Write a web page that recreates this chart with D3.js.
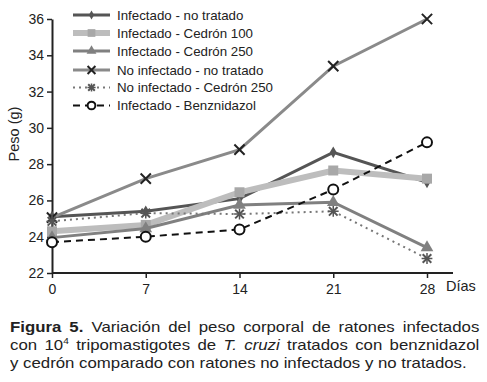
<!DOCTYPE html>
<html lang="es">
<head>
<meta charset="UTF-8">
<title>Peso corporal</title>
<script src="https://d3js.org/d3.v7.min.js"></script>
<style>
  body { margin: 0; background: #fff; font-family: "Liberation Sans", Arial, sans-serif; }
  #chart { position: absolute; left: 0; top: 0; }
  .caption {
    position: absolute; left: 10px; top: 318px; width: 419px;
    font-size: 15px; line-height: 18px; color: #222;
    transform: scaleX(1.12); transform-origin: 0 0;
  }
  .caption div { text-align: justify; text-align-last: justify; white-space: nowrap; }
  .caption div.last { text-align-last: left; }
  .caption sup { font-size: 9px; line-height: 0; vertical-align: 6px; }
</style>
</head>
<body>
<div id="chart"></div>
<div class="caption">
  <div><b>Figura 5.</b> Variación del peso corporal de ratones infectados</div>
  <div>con 10<sup>4</sup> tripomastigotes de <i>T. cruzi</i> tratados con benznidazol</div>
  <div class="last">y cedrón comparado con ratones no infectados y no tratados.</div>
</div>
<script>
const days = [0, 7, 14, 21, 28];
const yTicks = [22, 24, 26, 28, 30, 32, 34, 36];
const seriesNames = [
  "Infectado - no tratado",
  "Infectado - Cedrón 100",
  "Infectado - Cedrón 250",
  "No infectado - no tratado",
  "No infectado - Cedrón 250",
  "Infectado - Benznidazol"
];
const infNoTratado = [25.1, 25.4, 26.1, 28.65, 27.0];
const infCedron100 = [24.3, 24.65, 26.45, 27.65, 27.2];
const infCedron250 = [23.95, 24.45, 25.75, 25.9, 23.4];
const noInfNoTratado = [25.05, 27.2, 28.8, 33.4, 36.0];
const noInfCedron250 = [24.85, 25.3, 25.25, 25.4, 22.8];
const infBenznidazol = [23.7, 24.0, 24.4, 26.6, 29.2];

const styles = [
  { values: infNoTratado, color: "#555", width: 3, dash: null, marker: "diamond", mcolor: "#555" },
  { values: infCedron100, color: "#bdbdbd", width: 6, dash: null, marker: "square", mcolor: "#a8a8a8" },
  { values: infCedron250, color: "#808080", width: 3, dash: null, marker: "triangle", mcolor: "#808080" },
  { values: noInfNoTratado, color: "#8a8a8a", width: 3, dash: null, marker: "cross", mcolor: "#222" },
  { values: noInfCedron250, color: "#777", width: 2, dash: "2,4", marker: "star", mcolor: "#555" },
  { values: infBenznidazol, color: "#111", width: 2, dash: "7,5", marker: "circle", mcolor: "#111" }
];

const W = 487, H = 300;
const svg = d3.select("#chart").append("svg").attr("width", W).attr("height", H)
  .style("font-family", "'Liberation Sans', Arial, sans-serif");

const x = d3.scaleLinear().domain([0, 28]).range([52, 427]);
const y = d3.scaleLinear().domain([22, 36]).range([273, 19]);

// axes
const xAxis = svg.append("g").attr("transform", "translate(0,273)")
  .call(d3.axisBottom(x).tickValues(days).tickSize(5).tickSizeOuter(0));
xAxis.select(".domain").attr("d", "M52,0H453").attr("stroke", "#222").attr("stroke-width", 2);
const yAxis = svg.append("g").attr("transform", "translate(52,0)")
  .call(d3.axisLeft(y).tickValues(yTicks).tickSize(5).tickSizeOuter(0));
yAxis.select(".domain").attr("stroke", "#222").attr("stroke-width", 2);
svg.selectAll(".tick line").attr("stroke", "#222").attr("stroke-width", 1.5);
svg.selectAll(".tick text").attr("font-size", 14).attr("fill", "#222")
  .attr("font-family", "'Liberation Sans', Arial, sans-serif");
xAxis.selectAll(".tick text").attr("dy", "0.9em");

svg.append("text").attr("x", 446).attr("y", 291).attr("font-size", 14.5).attr("fill", "#222").text("Días");
svg.append("text").attr("transform", "translate(19,134) rotate(-90)").attr("text-anchor", "middle")
  .attr("font-size", 14.5).attr("fill", "#222").text("Peso (g)");

function drawMarker(g, type, cx, cy, color, scale) {
  const s = scale || 1;
  if (type === "diamond") {
    g.append("path").attr("d", d3.symbol(d3.symbolDiamond, 40 * s)())
      .attr("transform", `translate(${cx},${cy})`).attr("fill", color);
  } else if (type === "square") {
    g.append("path").attr("d", d3.symbol(d3.symbolSquare, 100 * s)())
      .attr("transform", `translate(${cx},${cy})`).attr("fill", color);
  } else if (type === "triangle") {
    g.append("path").attr("d", d3.symbol(d3.symbolTriangle, 70 * s)())
      .attr("transform", `translate(${cx},${cy})`).attr("fill", color);
  } else if (type === "cross") {
    g.append("path").attr("d", d3.symbol(d3.symbolX, 70 * s)())
      .attr("transform", `translate(${cx},${cy})`).attr("stroke", color).attr("stroke-width", 2).attr("fill", "none");
  } else if (type === "star") {
    g.append("path").attr("d", d3.symbol(d3.symbolX, 50 * s)())
      .attr("transform", `translate(${cx},${cy})`).attr("stroke", color).attr("stroke-width", 2).attr("fill", "none");
    g.append("path").attr("d", d3.symbol(d3.symbolPlus, 40 * s)())
      .attr("transform", `translate(${cx},${cy})`).attr("stroke", color).attr("stroke-width", 1.5).attr("fill", "none");
  } else if (type === "circle") {
    g.append("circle").attr("cx", cx).attr("cy", cy).attr("r", 5 * Math.sqrt(s))
      .attr("fill", "#fff").attr("stroke", color).attr("stroke-width", 2);
  }
}

const line = d3.line().x((d, i) => x(days[i])).y(d => y(d));
const plot = svg.append("g");
styles.forEach(s => {
  const g = plot.append("g");
  g.append("path").datum(s.values).attr("d", line).attr("fill", "none")
    .attr("stroke", s.color).attr("stroke-width", s.width)
    .attr("stroke-dasharray", s.dash);
  s.values.forEach((v, i) => drawMarker(g, s.marker, x(days[i]), y(v), s.mcolor));
});

// legend
const legend = svg.append("g");
const rowY = [15, 33, 51, 70, 87.5, 105.5];
seriesNames.forEach((name, i) => {
  const s = styles[i];
  const g = legend.append("g");
  g.append("line").attr("x1", 73).attr("x2", 110).attr("y1", rowY[i]).attr("y2", rowY[i])
    .attr("stroke", s.color).attr("stroke-width", s.width).attr("stroke-dasharray", s.dash);
  drawMarker(g, s.marker, 91.5, rowY[i], s.mcolor, 0.6);
  g.append("text").attr("x", 117).attr("y", rowY[i]).attr("dy", "0.35em")
    .attr("font-size", 13.3).attr("fill", "#222").text(name);
});
</script>
</body>
</html>
